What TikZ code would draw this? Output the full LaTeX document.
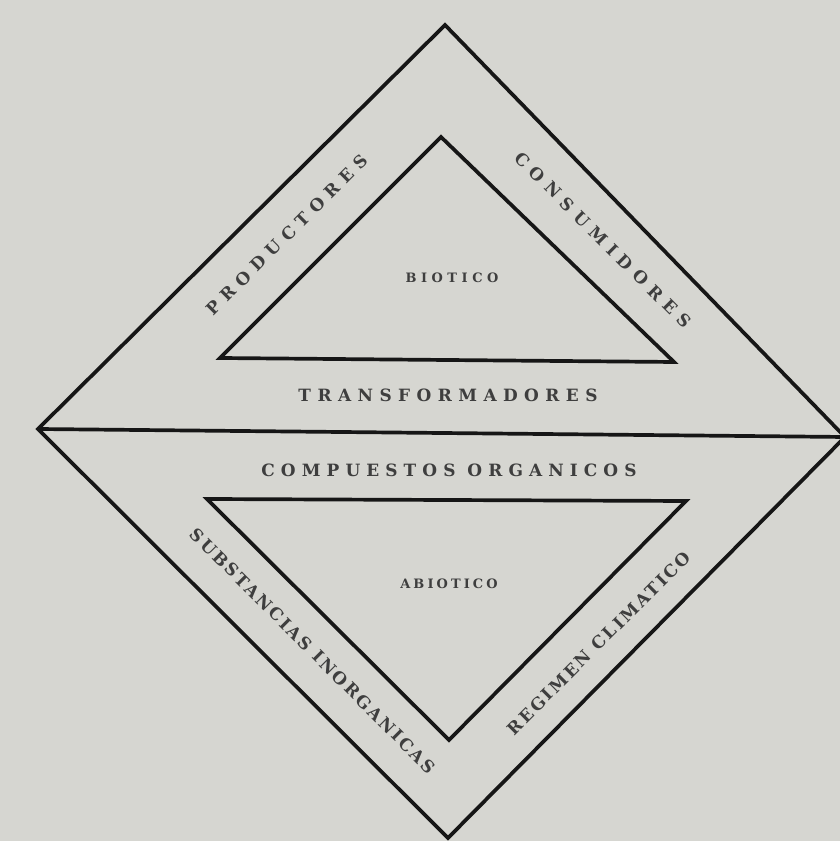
\documentclass[tikz,border=0pt]{standalone}
\usepackage{fontspec}
\newfontfamily\spTrans[LetterSpace=38]{DejaVu Serif}
\newfontfamily\spComp[LetterSpace=36]{DejaVu Serif}
\newfontfamily\spSide[LetterSpace=40]{DejaVu Serif}
\newfontfamily\spLow[LetterSpace=14]{DejaVu Serif}
\newfontfamily\spBio[LetterSpace=35]{DejaVu Serif}
\newfontfamily\spAbio[LetterSpace=24]{DejaVu Serif}
\definecolor{paper}{RGB}{214,214,209}
\definecolor{ink}{RGB}{22,22,22}
\definecolor{txt}{RGB}{62,62,62}
\tikzset{
  edge/.style={draw=ink, line width=3.7bp, line join=miter},
  lab/.style={text=txt, inner sep=0pt},
  transfont/.style={lab, font=\spTrans\bfseries\fontsize{17}{17}\selectfont},
  compfont/.style={lab, font=\spComp\bfseries\fontsize{17}{17}\selectfont},
  sidefont/.style={lab, font=\spSide\bfseries\fontsize{17}{17}\selectfont},
  lowfont/.style={lab, font=\spLow\bfseries\fontsize{17}{17}\selectfont},
  biofont/.style={lab, font=\spBio\bfseries\fontsize{13}{13}\selectfont},
  abiofont/.style={lab, font=\spAbio\bfseries\fontsize{13}{13}\selectfont}
}
\begin{document}
\begin{tikzpicture}[x=1bp,y=1bp]
\fill[paper] (0,0) rectangle (840,841);
\useasboundingbox (0,0) rectangle (840,841);
\clip (0,0) rectangle (840,841);
% outer diamond
\coordinate (T) at (445,816);
\coordinate (L) at (38,412);
\coordinate (R) at (845,404);
\coordinate (B) at (448,3);
% inner upper triangle
\coordinate (A1) at (441,704);
\coordinate (B1) at (220,483);
\coordinate (C1) at (674,479);
% inner lower triangle
\coordinate (D) at (207,342);
\coordinate (E) at (686,340);
\coordinate (F) at (449,101);
\draw[edge] (L) -- (T) -- (R) -- (B) -- cycle;
\draw[edge] (L) -- (R);
\draw[edge] (A1) -- (B1) -- (C1) -- cycle;
\draw[edge] (D) -- (E) -- (F) -- cycle;
% labels
\node[transfont] (trans) at (448,446) {TRANSFORMADORES};
\node[compfont] (comp) at (449,371) {COMPUESTOS ORGANICOS};
\node[biofont] (bio) at (452,563) {BIOTICO};
\node[abiofont] (abio) at (449,257) {ABIOTICO};
\node[sidefont, rotate=45] (prod) at (287,606) {PRODUCTORES};
\node[sidefont, rotate=-45] (cons) at (603,601) {CONSUMIDORES};
\node[lowfont, rotate=-45] (subs) at (313,190) {SUBSTANCIAS INORGANICAS};
\node[lowfont, rotate=45] (reg) at (599,198) {REGIMEN CLIMATICO};
\end{tikzpicture}
\end{document}
